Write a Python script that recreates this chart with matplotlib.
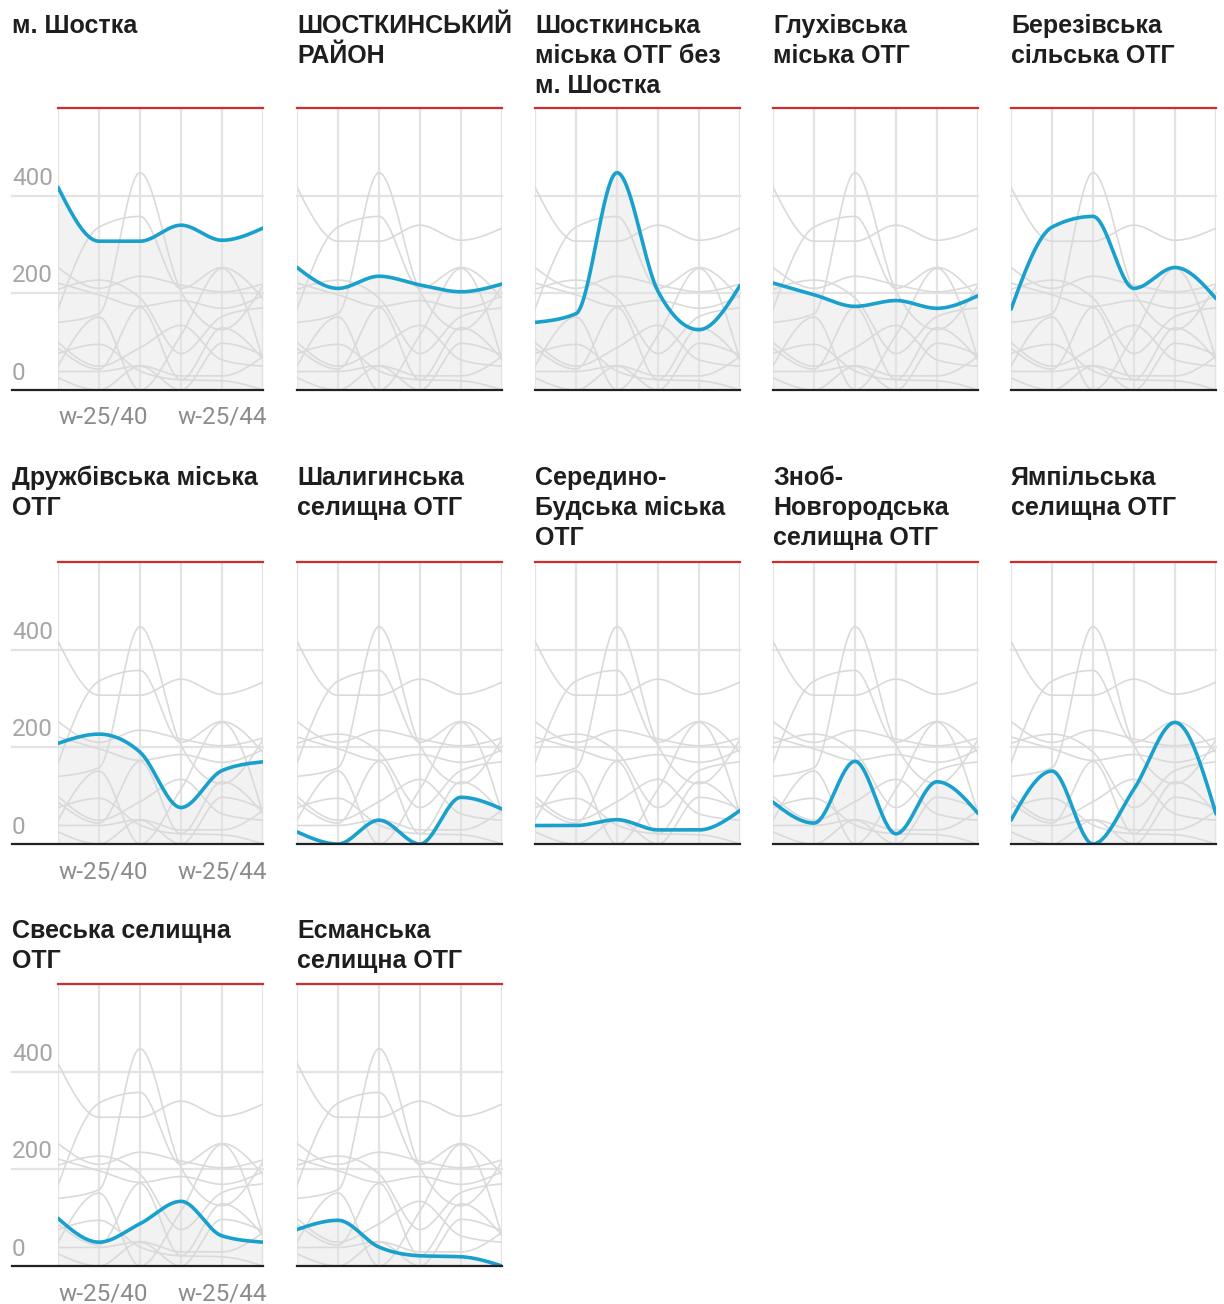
import numpy as np
import matplotlib.pyplot as plt

# weekly values per region
weeks = ["w-25/40", "w-25/41", "w-25/42", "w-25/43", "w-25/44", "w-25/45"]
shown_weeks = ["w-25/40", "w-25/44"]

titles = [
    "м. Шостка",
    "ШОСТКИНСЬКИЙ\nРАЙОН",
    "Шосткинська\nміська ОТГ без\nм. Шостка",
    "Глухівська\nміська ОТГ",
    "Березівська\nсільська ОТГ",
    "Дружбівська міська\nОТГ",
    "Шалигинська\nселищна ОТГ",
    "Середино-\nБудська міська\nОТГ",
    "Зноб-\nНовгородська\nселищна ОТГ",
    "Ямпільська\nселищна ОТГ",
    "Свеська селищна\nОТГ",
    "Есманська\nселищна ОТГ",
]

shostka = [417, 306, 306, 339, 308, 333]
raion = [252, 209, 234, 216, 202, 218]
shostka_otg = [139, 157, 447, 203, 124, 215]
hlukhiv = [220, 196, 172, 184, 168, 194]
beresiv = [166, 335, 357, 209, 252, 188]
druzhba = [207, 226, 189, 75, 151, 169]
shalyhyne = [25, 0, 49, 0, 96, 72]
seredyna = [38, 38, 50, 29, 29, 69]
znob = [86, 43, 170, 21, 128, 63]
yampil = [49, 150, 0, 113, 250, 62]
svesa = [98, 49, 87, 133, 62, 49]
esman = [75, 94, 39, 21, 19, 0]

series = [shostka, raion, shostka_otg, hlukhiv, beresiv, druzhba,
          shalyhyne, seredyna, znob, yampil, svesa, esman]

y_max = 580
y_ticks = [0, 200, 400]

BLUE = "#19a0cd"
GREY = "#dadada"
FILL = "#f2f2f2"
GRID = "#e3e3e3"
RED = "#d42a2a"


def monotone(y, steps=40):
    # same curve as d3.curveMonotoneX
    y = np.asarray(y, dtype=float)
    x = np.arange(len(y), dtype=float)
    h = np.diff(x)
    s = np.diff(y) / h
    t = np.zeros(len(y))
    sg = lambda v: -1.0 if v < 0 else 1.0
    for i in range(1, len(y) - 1):
        s0, s1 = s[i - 1], s[i]
        p = (s0 * h[i] + s1 * h[i - 1]) / (h[i - 1] + h[i])
        t[i] = (sg(s0) + sg(s1)) * min(abs(s0), abs(s1), 0.5 * abs(p))
    t[0] = (3 * s[0] - t[1]) / 2
    t[-1] = (3 * s[-1] - t[-2]) / 2
    xs, ys = [], []
    u = np.linspace(0, 1, steps)
    for i in range(len(y) - 1):
        dx = h[i]
        p0, p3 = y[i], y[i + 1]
        p1 = p0 + dx * t[i] / 3
        p2 = p3 - dx * t[i + 1] / 3
        by = (1 - u) ** 3 * p0 + 3 * (1 - u) ** 2 * u * p1 + 3 * (1 - u) * u ** 2 * p2 + u ** 3 * p3
        xs.append(x[i] + u * dx)
        ys.append(by)
    return np.concatenate(xs), np.concatenate(ys)


W, H = 1224, 1304
fig = plt.figure(figsize=(W / 100, H / 100), dpi=100)

col_left = [58, 297, 535, 773, 1011]
title_left = [12, 297, 535, 773, 1011]
row_top = [108, 562, 984]
title_base = [33, 485, 938]
pw, ph = 205, 282

curves = [monotone(v) for v in series]

for k, (name, vals) in enumerate(zip(titles, series)):
    r, c = divmod(k, 5)
    ax = fig.add_axes([col_left[c] / W, 1 - (row_top[r] + ph) / H, pw / W, ph / H])
    ax.set_xlim(0, len(weeks) - 1)
    ax.set_ylim(0, y_max)
    for sp in ax.spines.values():
        sp.set_visible(False)
    ax.set_xticks(range(len(weeks)))
    ax.set_yticks(y_ticks)
    ax.tick_params(length=0, labelbottom=False, labelleft=False)
    ax.grid(axis="x", color=GRID, lw=1.6, zorder=1)

    ext = -(col_left[0] - title_left[0]) / pw if c == 0 else 0
    for yv in y_ticks[1:]:
        ax.axhline(yv, xmin=ext, xmax=1, color=GRID, lw=1.6, clip_on=False, zorder=1)
    ax.axhline(0, xmin=ext, xmax=1, color="#222222", lw=1.6, clip_on=False, zorder=5)
    ax.axhline(y_max, color=RED, lw=1.6, clip_on=False, zorder=5)

    cx, cy = curves[k]
    ax.fill_between(cx, 0, cy, color=FILL, lw=0, zorder=0.5)
    for gx, gy in curves:
        ax.plot(gx, gy, color=GREY, lw=1.2, zorder=2)
    ax.plot(cx, cy, color=BLUE, lw=2.6, zorder=4, solid_capstyle="round")

    if c == 0:
        for yv in y_ticks:
            ax.annotate(str(yv), xy=(ext, yv), xycoords=ax.get_yaxis_transform(),
                        xytext=(0, 7.5), textcoords="offset points",
                        ha="left", va="baseline", fontsize=17.5, color="#a6a6a6",
                        family="Roboto")
        for j, lab in enumerate(shown_weeks):
            xi = weeks.index(lab)
            ax.text(xi, -34 / ph, lab, transform=ax.get_xaxis_transform(),
                    ha="left" if j == 0 else "center", va="baseline",
                    fontsize=17.5, color="#8c8c8c", family="Roboto")

    for li, line in enumerate(name.split("\n")):
        fig.text(title_left[c] / W, 1 - (title_base[r] + 30 * li) / H, line,
                 ha="left", va="baseline", fontsize=18, fontweight="bold",
                 color="#1e1e1e", family="Liberation Sans")

fig.savefig("out.png", dpi=100)
